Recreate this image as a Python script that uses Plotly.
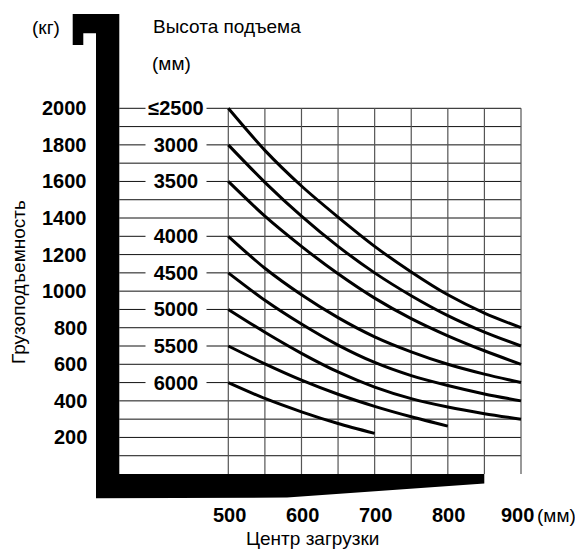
import plotly.graph_objects as go

# ---------------- data ----------------
load_centers = [500, 550, 600, 650, 700, 750, 800, 850, 900]
height_labels = ["≤2500", "3000", "3500", "4000", "4500", "5000", "5500", "6000"]
cap_2500 = [2000, 1770, 1575, 1405, 1245, 1105, 980, 880, 800]
cap_3000 = [1800, 1595, 1410, 1245, 1100, 975, 866, 776, 700]
cap_3500 = [1600, 1410, 1245, 1095, 962, 850, 756, 674, 600]
cap_4000 = [1300, 1125, 980, 855, 750, 668, 600, 546, 500]
cap_4500 = [1100, 950, 820, 705, 610, 538, 484, 438, 400]
cap_5000 = [900, 775, 660, 558, 475, 412, 366, 330, 300]
cap_5500 = [700, 602, 513, 436, 370, 313, 262]
cap_6000 = [500, 413, 340, 276, 222]
series = [cap_2500, cap_3000, cap_3500, cap_4000, cap_4500, cap_5000, cap_5500, cap_6000]

y_ticks = [2000, 1800, 1600, 1400, 1200, 1000, 800, 600, 400, 200]
x_ticks = [500, 600, 700, 800, 900]
x_grid = [500, 550, 600, 650, 700, 750, 800, 850, 900]
y_grid = list(range(100, 2001, 100))

# ---------------- geometry (screen-pixel mapping) ----------------
SCREEN_W, SCREEN_H = 583, 553
OFF = 8  # default page body margin
W, H = SCREEN_W - OFF, SCREEN_H - OFF
PX_X500, PX_X900 = 228.3 - OFF, 521.0 - OFF
PX_Y0, PX_Y2000 = 474.0 - OFF, 108.3 - OFF
sx = (PX_X900 - PX_X500) / 400.0
sy = (PX_Y0 - PX_Y2000) / 2000.0
x_range = [500 - PX_X500 / sx, 500 + (W - PX_X500) / sx]
y_range = [-(H - PX_Y0) / sy, PX_Y0 / sy]


def px2x(p):  # screen pixel -> data x
    return 500 + (p - OFF - PX_X500) / sx


def py2y(p):  # screen pixel -> data y
    return (PX_Y0 - (p - OFF)) / sy


FONT = "Liberation Sans, Arial, sans-serif"
FS = 20

fig = go.Figure()

for vals in series:
    fig.add_trace(go.Scatter(
        x=load_centers[:len(vals)], y=vals, mode="lines",
        line=dict(color="black", width=3, shape="spline", smoothing=0.8),
        hoverinfo="skip", showlegend=False))

shapes = []
for yv in y_grid:
    shapes.append(dict(type="line", xref="x", yref="y", x0=px2x(119.3), x1=900,
                       y0=yv, y1=yv, line=dict(color="#111111", width=1), layer="below"))
for xv in x_grid:
    shapes.append(dict(type="line", xref="x", yref="y", x0=xv, x1=xv,
                       y0=0, y1=2000, line=dict(color="#555555", width=1.2), layer="below"))

# fork silhouette (decoration), screen pixels
pts = [(72.7, 14), (119.3, 14), (119.3, 474), (484.3, 474), (484.3, 483.5),
       (287, 497.5), (96, 498.3), (96, 33.3), (83.3, 33.3), (83.3, 45), (72.7, 45)]
path = "M " + " L ".join(f"{px2x(a):.3f},{py2y(b):.3f}" for a, b in pts) + " Z"
shapes.append(dict(type="path", xref="x", yref="y", path=path,
                   fillcolor="black", line=dict(color="black", width=0), layer="above"))

ann = []
for t in y_ticks:
    ann.append(dict(x=px2x(89), y=t, xref="x", yref="y", text=str(t), showarrow=False,
                    xanchor="right", yanchor="middle",
                    font=dict(family=FONT, size=FS, color="black", weight="bold")))
for t in x_ticks:
    ann.append(dict(x=t, y=py2y(515), xref="x", yref="y", text=str(t), showarrow=False,
                    xanchor="center", yanchor="middle", xshift=(-4 if t == 900 else 1),
                    font=dict(family=FONT, size=FS, color="black", weight="bold")))
for lab, vals in zip(height_labels, series):
    ann.append(dict(x=px2x(176), y=vals[0], xref="x", yref="y", text=lab, showarrow=False,
                    xanchor="center", yanchor="middle", width=60, bgcolor="white",
                    borderpad=0,
                    font=dict(family=FONT, size=FS, color="black", weight="bold")))

ann += [
    dict(x=px2x(46), y=py2y(27), xref="x", yref="y", text="(кг)", showarrow=False,
         xanchor="center", yanchor="middle", font=dict(family=FONT, size=FS - 1, color="black")),
    dict(x=px2x(151), y=py2y(26), xref="x", yref="y", text="Высота подъема", showarrow=False,
         xanchor="left", yanchor="middle", font=dict(family=FONT, size=FS - 1, color="black")),
    dict(x=px2x(150), y=py2y(63), xref="x", yref="y", text="(мм)", showarrow=False,
         xanchor="left", yanchor="middle", font=dict(family=FONT, size=FS - 1, color="black")),
    dict(x=px2x(18), y=py2y(282), xref="x", yref="y", text="Грузоподъемность", showarrow=False,
         textangle=-90, xanchor="center", yanchor="middle",
         font=dict(family=FONT, size=FS - 1, color="black")),
    dict(x=px2x(535), y=py2y(515), xref="x", yref="y", text="(мм)", showarrow=False,
         xanchor="left", yanchor="middle", font=dict(family=FONT, size=FS - 1, color="black")),
    dict(x=px2x(312), y=py2y(538), xref="x", yref="y", text="Центр загрузки", showarrow=False,
         xanchor="center", yanchor="middle", font=dict(family=FONT, size=FS - 1, color="black")),
]

fig.update_layout(
    width=W, height=H,
    margin=dict(l=0, r=0, t=0, b=0),
    paper_bgcolor="white", plot_bgcolor="white",
    xaxis=dict(range=x_range, visible=False, fixedrange=True),
    yaxis=dict(range=y_range, visible=False, fixedrange=True),
    shapes=shapes, annotations=ann, showlegend=False,
)

fig.write_html("out.html")
